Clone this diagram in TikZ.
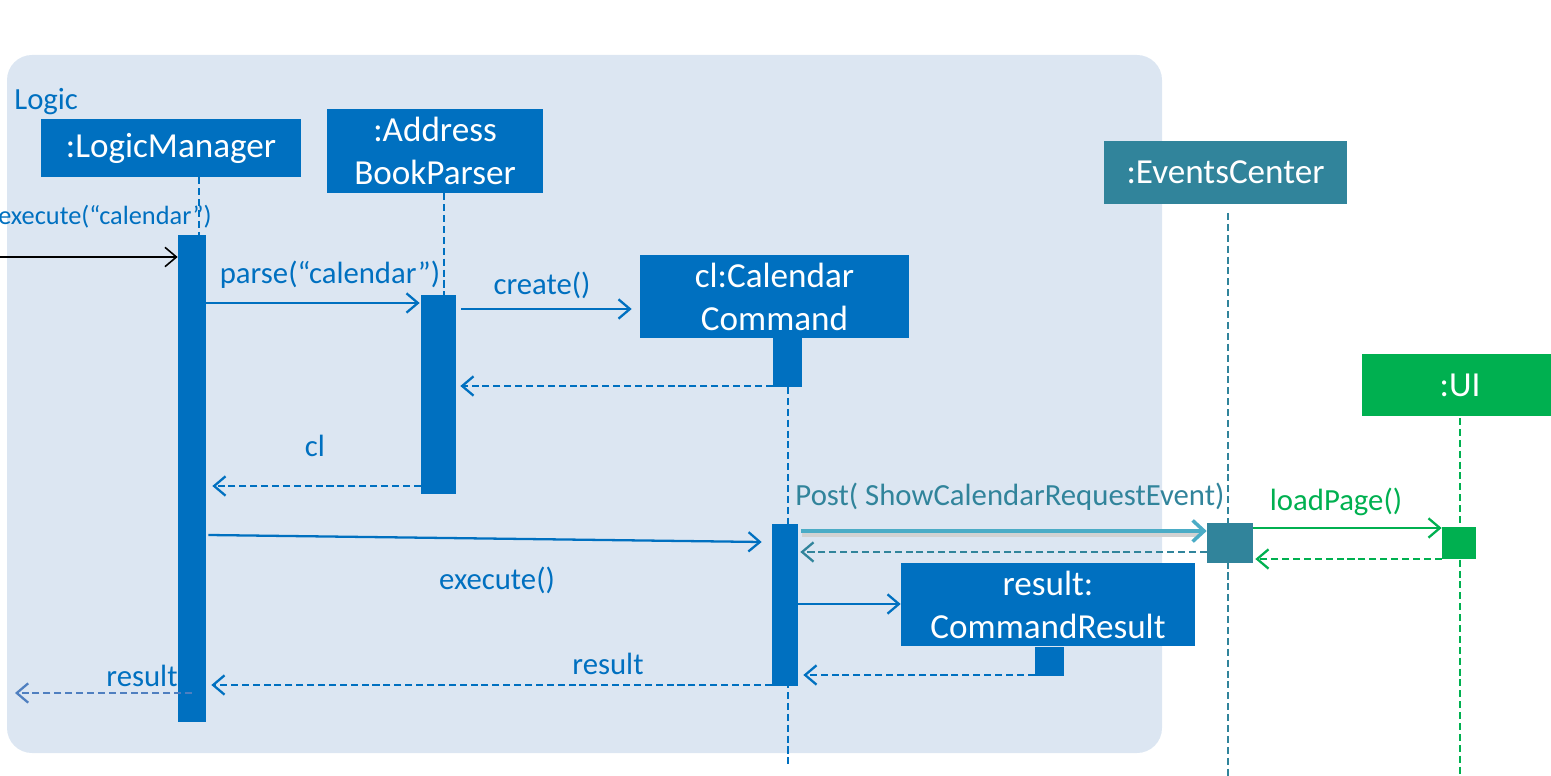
\documentclass[tikz,border=0pt]{standalone}
\usepackage{fontspec}
\setmainfont{Carlito}
\usetikzlibrary{arrows.meta}

\definecolor{logicblue}{HTML}{0070C0}
\definecolor{logicbg}{HTML}{DCE6F2}
\definecolor{eventteal}{HTML}{31849B}
\definecolor{postteal}{HTML}{4BACC6}
\definecolor{uigreen}{HTML}{00B050}
\definecolor{outblue}{HTML}{4F7FC0}

\begin{document}
\begin{tikzpicture}[%
x=0.02cm, y=-0.02cm,
obj/.style={fill=logicblue, text=white, inner sep=0pt, align=center, font=\fontsize{20}{24.4}\selectfont},
act/.style={fill=logicblue, inner sep=0pt},
life/.style={logicblue, line width=1.6pt, dash pattern=on 4pt off 2.2pt},
call/.style={logicblue, line width=1.3pt, -{Straight Barb[length=6.5pt,width=11pt,line width=1.3pt]}},
reply/.style={logicblue, line width=1.6pt, dash pattern=on 4pt off 2.2pt, -{Straight Barb[length=6.5pt,width=11pt,line width=1.3pt]}},
lbl/.style={text=logicblue, inner sep=0pt, font=\fontsize{17.5}{20}\selectfont},
]
\useasboundingbox (0,0) rectangle (1551,776);
%% logic component;
\fill [logicbg, rounded corners=0.5cm] (7,55) rectangle (1162,753);
\node [lbl, anchor=west] (logicName) at (14,102) {Logic};
%% objects;
\node [obj, minimum width=5.2cm, minimum height=1.16cm] (lm) at (171,148) {:LogicManager};
\node [obj, minimum width=4.32cm, minimum height=1.68cm] (bp) at (435,151) {:Address\\BookParser};
\node [obj, minimum width=5.38cm, minimum height=1.66cm] (cc) at (774.5,296.5) {cl:Calendar\\Command};
\node [obj, fill=eventteal, minimum width=4.86cm, minimum height=1.26cm] (ec) at (1225.5,172.5) {:EventsCenter};
\node [obj, fill=uigreen, minimum width=3.92cm, minimum height=1.24cm] (ui) at (1460,385) {:UI};
\node [obj, minimum width=5.88cm, minimum height=1.66cm] (cr) at (1048,604.5) {result:\\CommandResult};
%% lifelines;
\coordinate (lmEnd) at (199,235);
\coordinate (bpEnd) at (444,498);
\coordinate (ccEnd) at (788,765);
\coordinate (ecEnd) at (1228,776);
\coordinate (uiEnd) at (1460,776);
\draw [life] (lmEnd |- lm.south) -- (lmEnd);
\draw [life] (bpEnd |- bp.south) -- (bpEnd);
\draw [life] (788,387) -- (ccEnd);
\draw [life, eventteal] (1228,213) -- (ecEnd);
\draw [life, uigreen] (1460,418) -- (uiEnd);
%% activations;
\node [act, minimum width=0.56cm, minimum height=9.74cm] (lmAct) at (192,478.5) {};
\node [act, minimum width=0.7cm, minimum height=3.98cm] (bpAct) at (438.5,394.5) {};
\node [act, minimum width=0.58cm, minimum height=0.98cm] (ccAct1) at (787.5,362.5) {};
\node [act, minimum width=0.52cm, minimum height=3.24cm] (ccAct2) at (785,605) {};
\node [act, fill=eventteal, minimum width=0.92cm, minimum height=0.8cm] (ecAct) at (1230,543) {};
\node [act, fill=uigreen, minimum width=0.68cm, minimum height=0.64cm] (uiAct) at (1459,543) {};
\node [act, minimum width=0.58cm, minimum height=0.58cm] (crAct) at (1049.5,661.5) {};
%% message rows;
\coordinate (rowFound) at (0,257);
\coordinate (rowParse) at (0,303);
\coordinate (rowCreate) at (0,309);
\coordinate (rowNew) at (0,386);
\coordinate (rowCl) at (0,486);
\coordinate (rowPost) at (0,531);
\coordinate (rowLoad) at (0,528);
\coordinate (rowBack) at (0,552);
\coordinate (rowUiBack) at (0,559);
\coordinate (rowResult) at (0,604);
\coordinate (rowCrBack) at (0,675);
\coordinate (rowCcBack) at (0,685);
\coordinate (rowOut) at (0,693);
\coordinate (outEnd) at (15,693);
%% found message;
\draw [black, line width=0.9pt, -{Straight Barb[length=6.5pt,width=11pt,line width=0.9pt]}] (rowFound) -- (lmAct.west |- rowFound);
\node [lbl, anchor=east, font=\fontsize{15}{18}\selectfont] (execLbl) at (212,217) {execute(“calendar”)};
%% parse;
\draw [call] (lmAct.east |- rowParse) -- ([xshift=-0.02cm]bpAct.west |- rowParse);
\node [lbl] (parseLbl) at (330,275) {parse(“calendar”)};
%% create;
\draw [call] ([xshift=0.1cm]bpAct.east |- rowCreate) -- ([xshift=-0.16cm]cc.west |- rowCreate);
\node [lbl] (createLbl) at (542,285) {create()};
\draw [reply] (ccAct1.west |- rowNew) -- ([xshift=0.08cm]bpAct.east |- rowNew);
%% cl;
\draw [reply] (bpAct.west |- rowCl) -- ([xshift=0.12cm]lmAct.east |- rowCl);
\node [lbl] (clLbl) at (315,446) {cl};
%% execute;
\draw [call] ([xshift=0.04cm,yshift=-0.08cm]lmAct.east |- rowPost) -- ([xshift=-0.2cm,yshift=-0.22cm]ccAct2.west |- rowPost);
\node [lbl] (execLbl2) at (497,580) {execute()};
%% post event;
\draw [gray!35, line width=2.2pt] ([xshift=0.08cm,yshift=-0.08cm]ccAct2.east |- rowPost) -- ([xshift=-0.16cm,yshift=-0.08cm]ecAct.west |- rowPost);
\draw [postteal, line width=2.4pt, -{Straight Barb[length=6.5pt,width=12pt,line width=2pt]}] ([xshift=0.06cm]ccAct2.east |- rowPost) -- (ecAct.west |- rowPost);
\node [lbl, text=eventteal] (postLbl) at (1010,497) {Post( ShowCalendarRequestEvent)};
\draw [reply, eventteal] (ecAct.west |- rowBack) -- ([xshift=0.04cm]ccAct2.east |- rowBack);
%% load page;
\draw [call, uigreen] (ecAct.east |- rowLoad) -- (uiAct.west |- rowLoad);
\node [lbl, text=uigreen] (loadLbl) at (1336,502) {loadPage()};
\draw [reply, uigreen] (uiAct.west |- rowUiBack) -- ([xshift=0.04cm]ecAct.east |- rowUiBack);
%% result;
\draw [call] (ccAct2.east |- rowResult) -- (cr.west |- rowResult);
\draw [reply] (crAct.west |- rowCrBack) -- ([xshift=0.1cm]ccAct2.east |- rowCrBack);
\draw [reply] (ccAct2.west |- rowCcBack) -- ([xshift=0.1cm]lmAct.east |- rowCcBack);
\node [lbl] (resultLbl) at (608,664) {result};
\draw [reply, outblue] (lmAct.center |- rowOut) -- (outEnd);
\node [lbl] (resultLbl2) at (142,676) {result};
\end{tikzpicture}
\end{document}
